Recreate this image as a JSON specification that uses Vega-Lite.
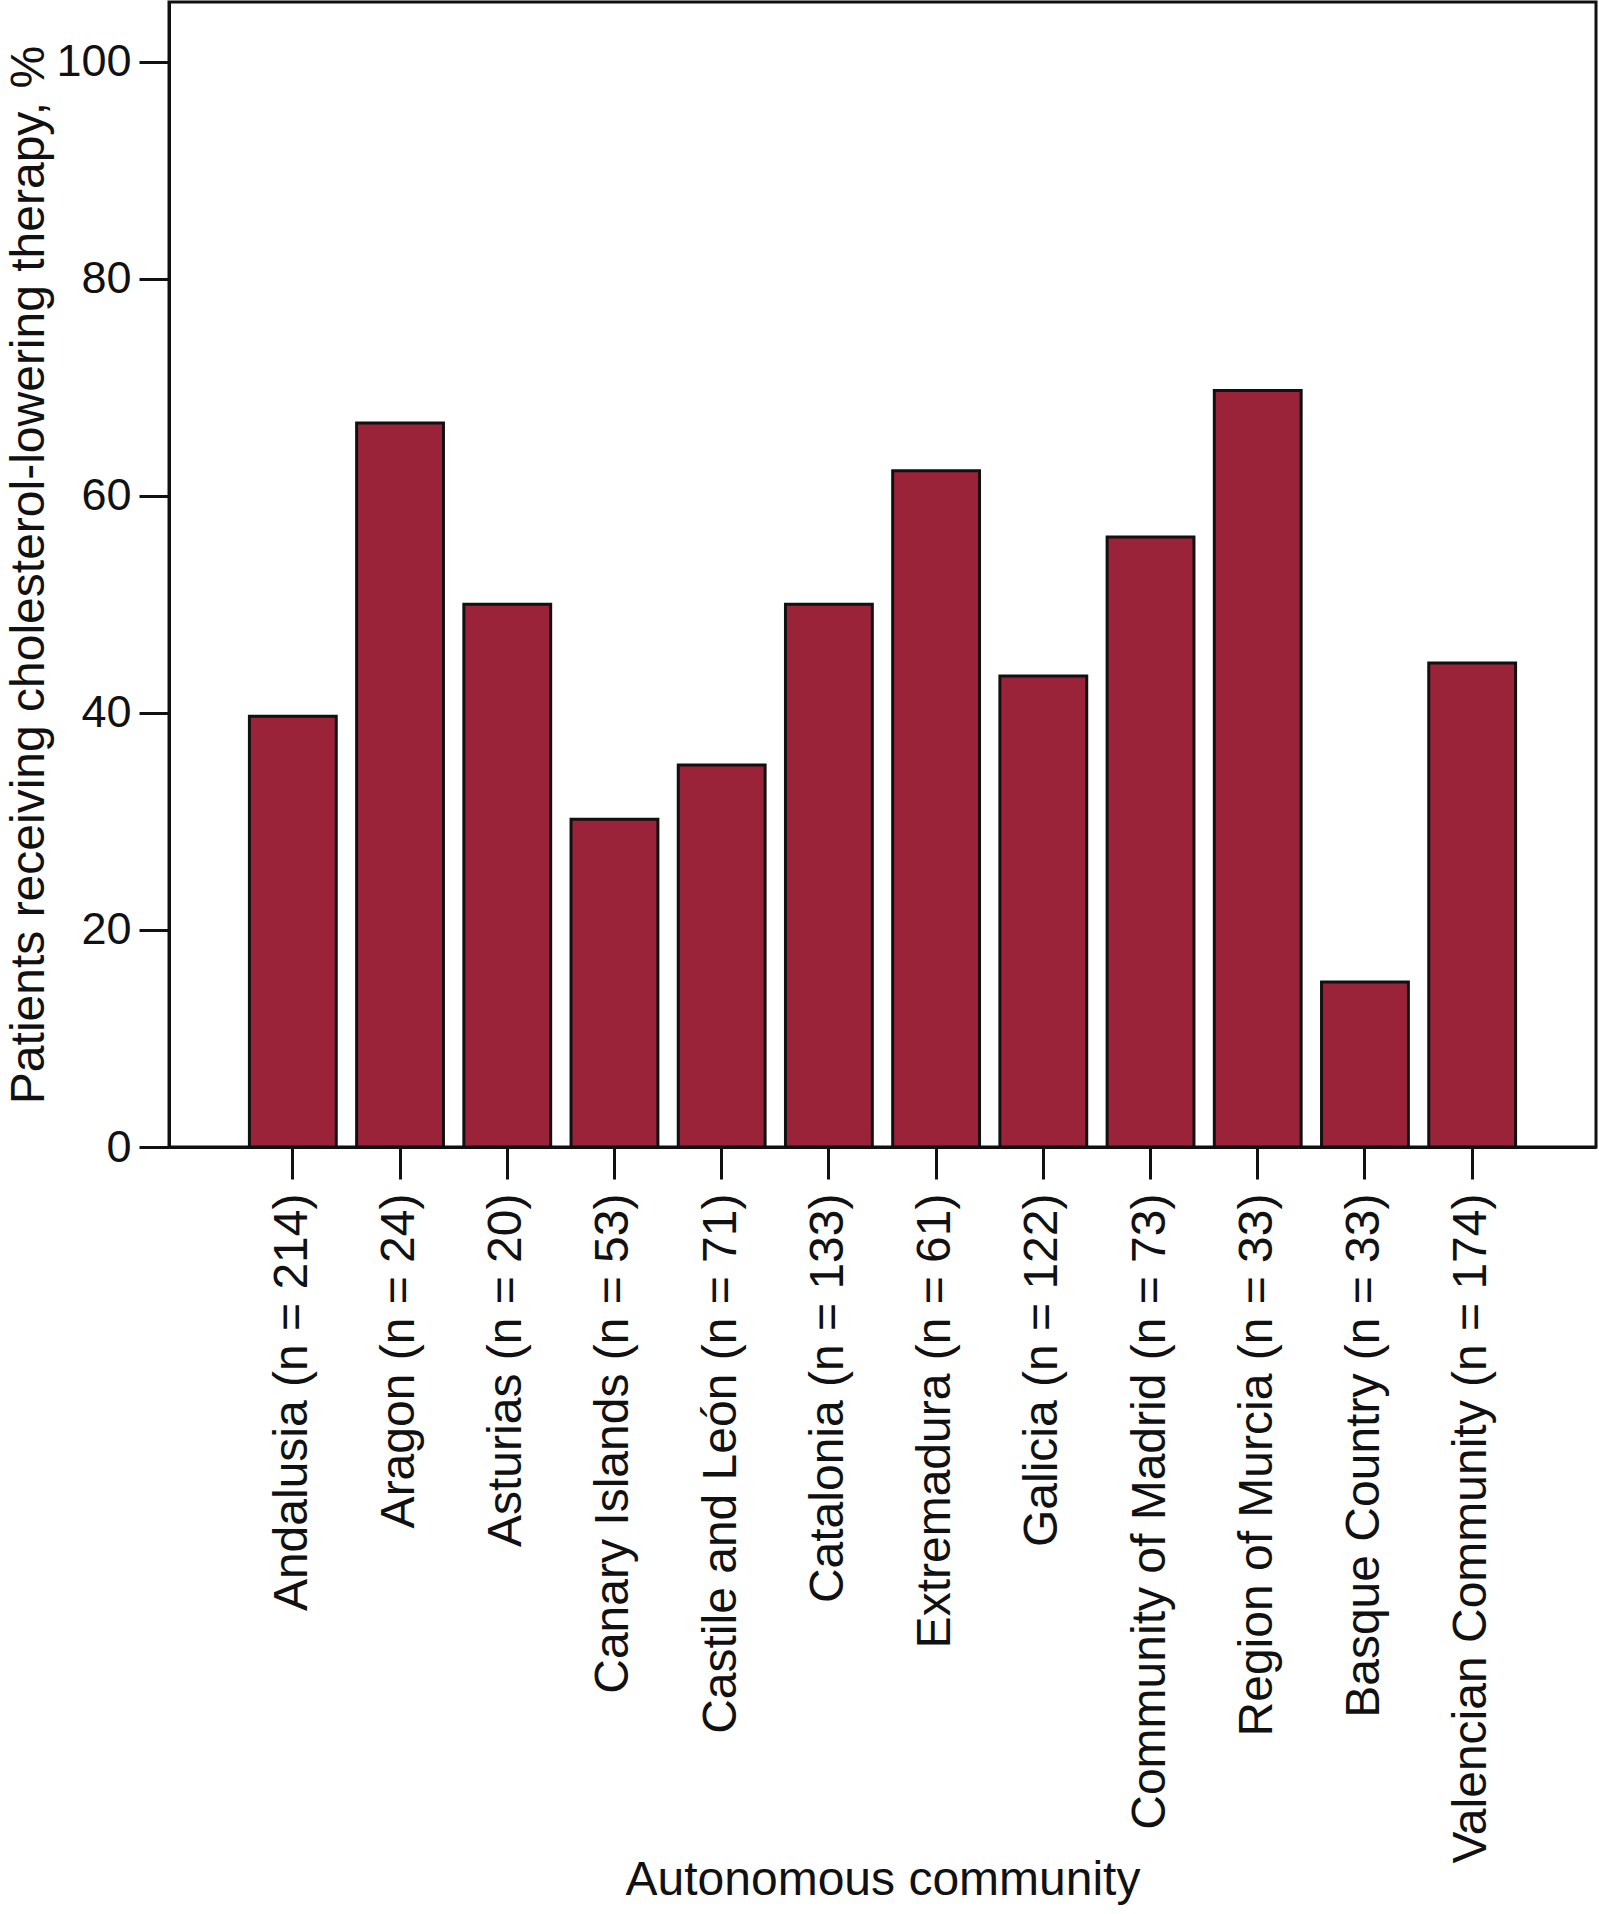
{
  "$schema": "https://vega.github.io/schema/vega-lite/v6.json",
  "autosize": {"type": "none"},
  "padding": {"left": 169, "top": 2, "right": 3, "bottom": 767},
  "width": 1427,
  "height": 1145,
  "background": "white",
  "config": {
    "font": "Liberation Sans",
    "view": {"stroke": "#111", "strokeWidth": 3}
  },
  "data": {
    "values": [
      {"community": "Andalusia (n = 214)", "pct": 39.7},
      {"community": "Aragon (n = 24)", "pct": 66.7},
      {"community": "Asturias (n = 20)", "pct": 50.0},
      {"community": "Canary Islands (n = 53)", "pct": 30.2},
      {"community": "Castile and León (n = 71)", "pct": 35.2},
      {"community": "Catalonia (n = 133)", "pct": 50.0},
      {"community": "Extremadura (n = 61)", "pct": 62.3},
      {"community": "Galicia (n = 122)", "pct": 43.4},
      {"community": "Community of Madrid (n = 73)", "pct": 56.2},
      {"community": "Region of Murcia (n = 33)", "pct": 69.7},
      {"community": "Basque Country (n = 33)", "pct": 15.2},
      {"community": "Valencian Community (n = 174)", "pct": 44.6}
    ]
  },
  "mark": {"type": "bar", "fill": "#9b2339", "stroke": "#111", "strokeWidth": 3},
  "encoding": {
    "x": {
      "field": "community",
      "type": "nominal",
      "sort": null,
      "scale": {"paddingInner": 0.19, "paddingOuter": 0.75},
      "axis": {
        "title": "Autonomous community",
        "titleFont": "Liberation Sans",
        "titleFontSize": 48,
        "titleFontWeight": "normal",
        "titleColor": "#111",
        "titleBaseline": "alphabetic",
        "titleY": 747,
        "labelAngle": -90,
        "labelLimit": 0,
        "labelFontSize": 48,
        "labelColor": "#111",
        "labelPadding": 14,
        "tickSize": 32,
        "tickWidth": 3,
        "tickColor": "#111",
        "domainWidth": 3,
        "domainColor": "#111"
      }
    },
    "y": {
      "field": "pct",
      "type": "quantitative",
      "scale": {"domain": [0, 105.5], "nice": false},
      "axis": {
        "title": "Patients receiving cholesterol-lowering therapy, %",
        "titleFontSize": 48,
        "titleFontWeight": "normal",
        "titleColor": "#111",
        "titlePadding": 2,
        "values": [0, 20, 40, 60, 80, 100],
        "labelFontSize": 45,
        "labelColor": "#111",
        "labelPadding": 8,
        "tickSize": 30,
        "tickWidth": 3,
        "tickColor": "#111",
        "domainWidth": 3,
        "domainColor": "#111",
        "grid": false
      }
    }
  }
}
